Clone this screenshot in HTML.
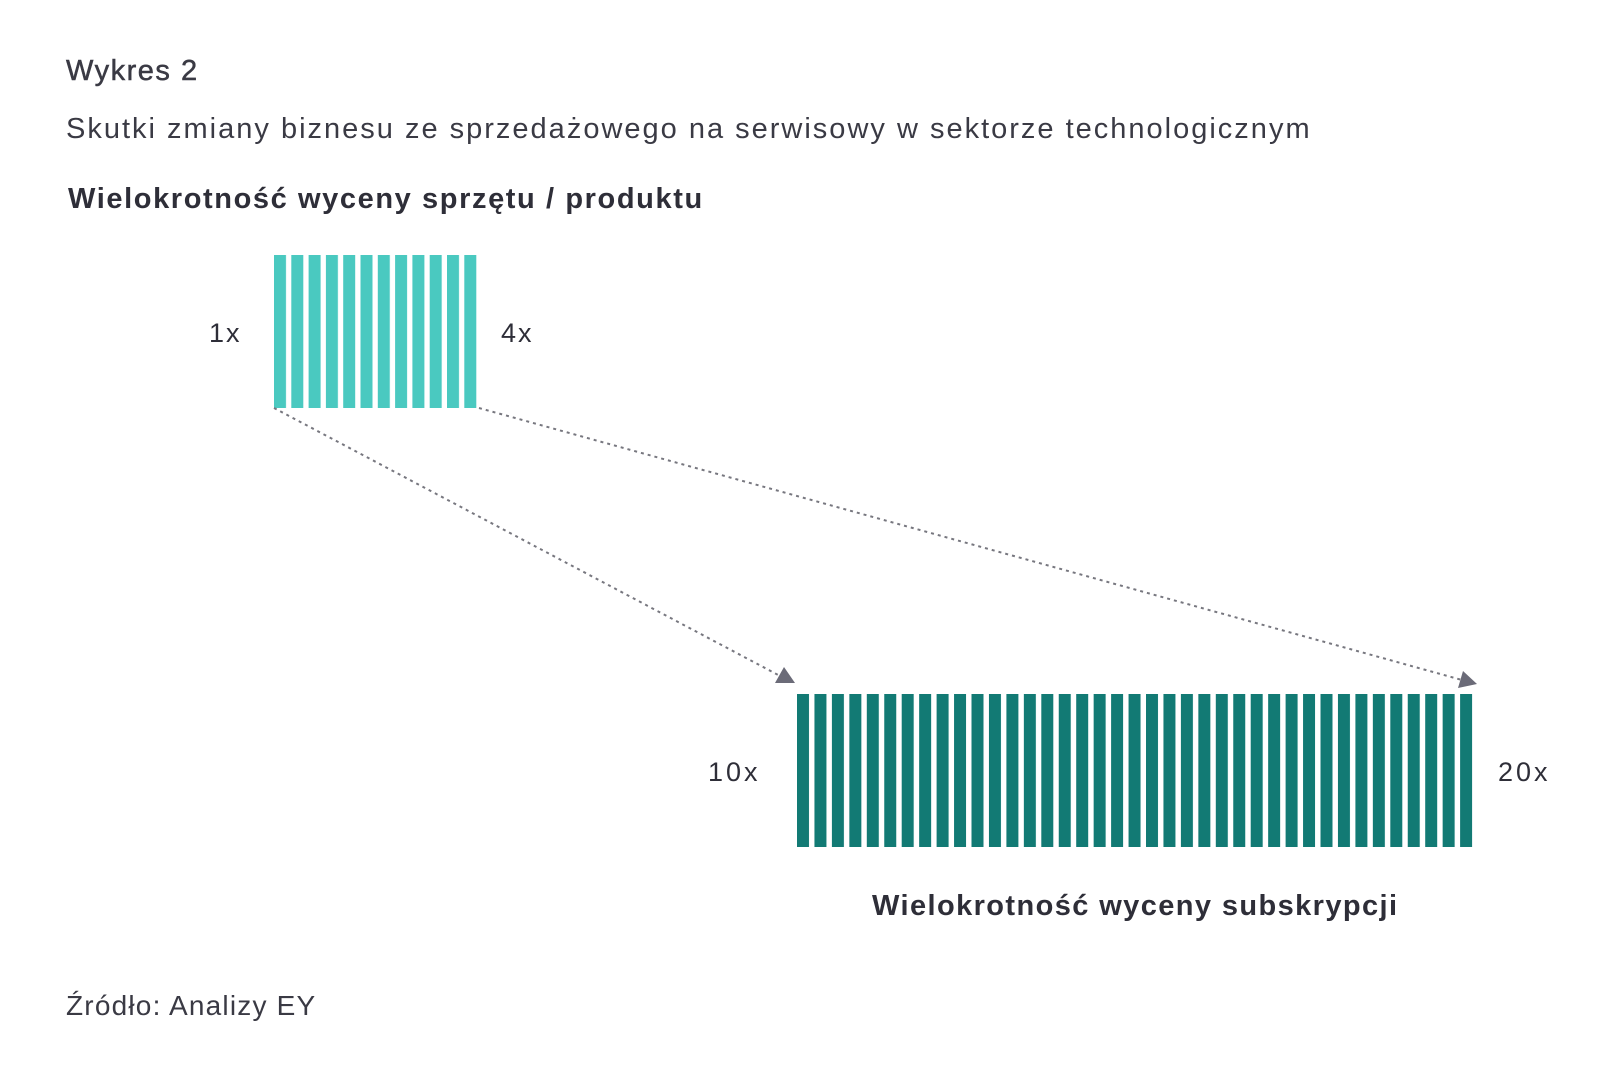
<!DOCTYPE html>
<html><head><meta charset="utf-8"><style>
body{margin:0;background:#fff;width:1620px;height:1080px;overflow:hidden;font-family:"Liberation Sans","DejaVu Sans",sans-serif;color:#2e2e38}
.t{position:absolute;white-space:nowrap}
</style></head><body>
<div class="t" style="left:66px;top:55px;font-size:29px;letter-spacing:1.5px;color:#3a3a44;-webkit-text-stroke:0.5px #3a3a44">Wykres 2</div>
<div class="t" style="left:66px;top:113px;font-size:29px;letter-spacing:2px;color:#3a3a44">Skutki zmiany biznesu ze sprzedażowego na serwisowy w sektorze technologicznym</div>
<div class="t" style="left:68px;top:183px;font-size:29px;font-weight:bold;letter-spacing:1.6px;color:#2e2e38">Wielokrotność wyceny sprzętu / produktu</div>
<div class="t" style="left:209px;top:318px;font-size:27px;letter-spacing:2px">1x</div>
<div class="t" style="left:501px;top:318px;font-size:27px;letter-spacing:2px">4x</div>
<div class="t" style="left:708px;top:757px;font-size:27px;letter-spacing:3px">10x</div>
<div class="t" style="left:1498px;top:757px;font-size:27px;letter-spacing:3px">20x</div>
<div class="t" style="left:872px;top:890px;font-size:29px;font-weight:bold;letter-spacing:1.4px">Wielokrotność wyceny subskrypcji</div>
<div class="t" style="left:66px;top:990px;font-size:28px;letter-spacing:1.2px;color:#3a3a44">Źródło: Analizy EY</div>
<svg width="1620" height="1080" style="position:absolute;left:0;top:0">
<defs>
<pattern id="p1" x="274" y="0" width="17.3" height="10" patternUnits="userSpaceOnUse"><rect width="12" height="10" fill="#4ac9c0"/></pattern>
<pattern id="p2" x="797" y="0" width="17.45" height="10" patternUnits="userSpaceOnUse"><rect width="12" height="10" fill="#127a74"/></pattern>
</defs>
<rect x="274" y="255" width="205" height="153" fill="url(#p1)"/>
<rect x="797" y="694" width="680" height="153" fill="url(#p2)"/>
<g stroke="#77777f" stroke-width="2" stroke-dasharray="3,4" fill="none">
<line x1="274" y1="408" x2="782" y2="677"/>
<line x1="479" y1="408" x2="1462" y2="680"/>
</g>
<polygon points="795,683 775,683 784,667" fill="#6b6b78"/>
<polygon points="1477,684 1458,688 1463,671" fill="#6b6b78"/>
</svg>
</body></html>
